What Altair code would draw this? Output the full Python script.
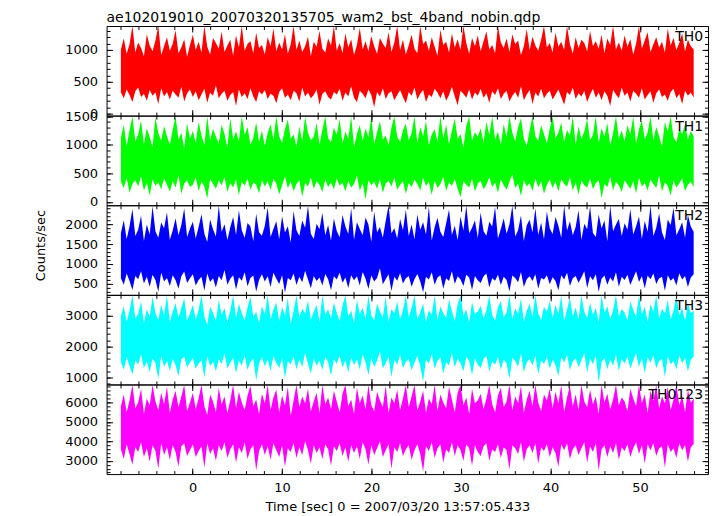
import altair as alt
import pandas as pd

title_text = "ae102019010_20070320135705_wam2_bst_4band_nobin.qdp"
x_title = "Time [sec] 0 = 2007/03/20 13:57:05.433"
y_title = "Counts/sec"

# each time bin (starting at -8 s, 200 bins up to 56 s) is read as its low and high extent
t_start = -8.0
t_step = 0.3216

band_names = ["TH0", "TH1", "TH2", "TH3", "TH0123"]
band_colors = ["#ff0000", "#00ff00", "#0000ff", "#00ffff", "#ff00ff"]

th0_hi = [1010, 1180, 940, 1090, 1380, 960, 1120, 1030, 900, 1250, 1070, 980, 1150, 1380, 920, 1060, 1200, 990, 1100, 1310, 950, 1040, 1170, 890, 1080,
          1240, 1000, 1130, 960, 1380, 1050, 930, 1190, 1110, 1020, 1290, 970, 1070, 1160, 910, 1230, 1040, 1380, 990, 1100, 1140, 950, 1270, 1030, 1080,
          930, 1200, 1060, 1340, 980, 1120, 1010, 1250, 940, 1090, 1380, 1000, 1150, 970, 1060, 1210, 900, 1130, 1050, 1300, 1020, 960, 1180, 1070, 1380,
          990, 1110, 950, 1260, 1040, 1170, 920, 1080, 1350, 1010, 1140, 980, 1220, 1060, 940, 1190, 1100, 1030, 1280, 970, 1120, 1380, 1000, 1160, 930,
          1070, 1240, 1020, 950, 1380, 1090, 1150, 990, 1200, 1050, 910, 1320, 1080, 1130, 960, 1260, 1040, 1170, 1000, 1380, 1110, 940, 1190, 1060, 1230,
          980, 1140, 1290, 1010, 1080, 950, 1380, 1120, 1030, 1180, 970, 1250, 1090, 1150, 920, 1060, 1330, 1000, 1210, 1070, 990, 1160, 1380, 1040, 1110,
          960, 1270, 1050, 1130, 1000, 1380, 1090, 940, 1200, 1030, 1160, 1110, 980, 1300, 1060, 1140, 1020, 1240, 950, 1180, 1080, 1380, 1010, 1120, 990,
          1230, 1050, 1170, 930, 1100, 1380, 1020, 1150, 1280, 970, 1090, 1200, 1040, 1130, 960, 1340, 1070, 1190, 1000, 1110, 1260, 980, 1160, 1060, 1010]
th0_lo = [330, 240, 380, 290, 180, 350, 410, 260, 310, 200, 370, 280, 330, 150, 400, 270, 340, 220, 360, 300, 250, 420, 190, 320, 380,
          260, 350, 210, 300, 390, 170, 330, 280, 440, 240, 310, 360, 200, 290, 340, 120, 380, 260, 320, 230, 400, 270, 180, 350, 300,
          370, 230, 310, 280, 160, 340, 400, 250, 300, 210, 360, 320, 190, 410, 270, 330, 240, 290, 380, 140, 310, 350, 260, 220, 340,
          300, 390, 200, 330, 270, 430, 250, 180, 360, 310, 240, 380, 290, 100, 340, 270, 400, 230, 320, 350, 210, 290, 370, 260, 160,
          340, 280, 410, 220, 310, 370, 180, 300, 260, 390, 330, 240, 350, 200, 290, 420, 270, 130, 360, 310, 250, 380, 220, 330, 280,
          390, 250, 320, 170, 350, 290, 400, 230, 310, 360, 190, 280, 340, 250, 430, 210, 300, 370, 150, 330, 270, 390, 240, 310, 360,
          220, 300, 380, 260, 140, 340, 290, 410, 230, 320, 270, 360, 180, 300, 390, 250, 330, 210, 350, 280, 120, 370, 300, 240, 410,
          280, 330, 190, 360, 310, 250, 400, 220, 290, 350, 170, 320, 380, 260, 300, 200, 340, 390, 240, 310, 150, 360, 280, 330, 250]

th1_hi = [1120, 1350, 980, 1250, 1500, 1060, 1180, 1420, 1010, 1290, 1130, 960, 1480, 1200, 1070, 1330, 1150, 1000, 1260, 1500, 1090, 1210, 940, 1370, 1110,
          1240, 1030, 1400, 1160, 990, 1500, 1080, 1280, 1140, 1020, 1350, 1190, 950, 1460, 1100, 1230, 1060, 1500, 1170, 1310, 1000, 1120, 1390, 1050, 1250,
          980, 1200, 1360, 1090, 1500, 1150, 1030, 1270, 1440, 1110, 1180, 970, 1320, 1060, 1490, 1210, 1080, 1140, 1380, 1000, 1260, 1500, 1120, 1040, 1300,
          1170, 1450, 1020, 1230, 1100, 1500, 960, 1190, 1340, 1070, 1280, 1130, 1500, 1010, 1220, 1410, 1090, 1160, 990, 1300, 1500, 1140, 1050, 1250, 1370,
          1080, 1200, 1500, 1030, 1310, 1150, 1420, 990, 1180, 1270, 1060, 1500, 1120, 1350, 1010, 1240, 1460, 1100, 1190, 950, 1330, 1500, 1070, 1220, 1140,
          1290, 1040, 1400, 1170, 1500, 1090, 1230, 1000, 1360, 1130, 1500, 1210, 1060, 1300, 1470, 1110, 980, 1250, 1500, 1150, 1070, 1340, 1190, 1020, 1280,
          1500, 1120, 1210, 1390, 1050, 1260, 1160, 1500, 1000, 1320, 1100, 1230, 1450, 1080, 1170, 1500, 1030, 1290, 1140, 1380, 990, 1200, 1500, 1110, 1250,
          1060, 1340, 1180, 1500, 1020, 1270, 1430, 1100, 1210, 1500, 1080, 1310, 1150, 970, 1400, 1230, 1500, 1130, 1040, 1280, 1190, 1360, 1090, 1240, 1150]
th1_lo = [350, 240, 420, 160, 310, 380, 270, 450, 200, 330, 110, 390, 280, 340, 220, 410, 300, 180, 360, 250, 470, 140, 320, 380, 260,
          300, 430, 190, 350, 270, 60, 400, 310, 230, 370, 290, 440, 170, 330, 250, 390, 120, 350, 280, 410, 210, 340, 300, 150, 380,
          270, 360, 210, 400, 320, 130, 290, 450, 240, 350, 190, 310, 380, 90, 330, 270, 420, 230, 360, 300, 170, 390, 260, 340, 220,
          410, 280, 340, 180, 370, 250, 310, 460, 200, 330, 40, 380, 290, 350, 230, 400, 160, 320, 370, 270, 430, 210, 300, 360, 140,
          330, 260, 390, 310, 200, 420, 280, 350, 120, 370, 240, 310, 440, 190, 340, 280, 400, 230, 80, 360, 300, 250, 410, 180, 320,
          370, 220, 300, 430, 260, 340, 160, 390, 290, 210, 350, 480, 240, 320, 100, 380, 270, 330, 190, 410, 250, 360, 140, 300, 390,
          240, 350, 180, 400, 310, 270, 430, 200, 340, 130, 370, 290, 250, 410, 220, 330, 380, 70, 310, 260, 440, 200, 350, 290, 170,
          380, 300, 230, 360, 150, 420, 270, 330, 200, 390, 310, 240, 460, 180, 340, 280, 110, 370, 250, 320, 410, 190, 300, 350, 260]

th2_hi = [1780, 2100, 1620, 1950, 2380, 1700, 1860, 2210, 1580, 1990, 1740, 2450, 1820, 1660, 2040, 1900, 2300, 1610, 1840, 2150, 1720, 1980, 2400, 1680, 1890,
          2060, 1640, 1930, 2250, 1760, 1550, 2120, 1870, 1690, 2470, 1810, 2000, 1600, 1920, 2180, 1730, 2350, 1850, 1650, 2030, 1940, 1570, 2260, 1800, 1710,
          1960, 2420, 1680, 1880, 2070, 1620, 2200, 1790, 1950, 1540, 2330, 1850, 1700, 2090, 1910, 2460, 1760, 1630, 2010, 1870, 2280, 1720, 1980, 1590, 2140,
          1830, 1670, 2230, 1940, 1750, 2400, 1610, 2050, 1880, 1720, 2170, 1990, 1560, 2310, 1800, 1930, 1660, 2080, 2470, 1770, 1900, 1640, 2130, 1850, 2360,
          1700, 1990, 1620, 2240, 1860, 2050, 1740, 2440, 1590, 1920, 2160, 1810, 1680, 2020, 2370, 1730, 1960, 1600, 2190, 1840, 2470, 1770, 1910, 2100, 1650,
          2290, 1820, 1710, 2060, 1940, 2430, 1640, 1880, 2150, 1760, 2000, 2470, 1690, 1850, 2220, 1580, 1970, 2110, 1800, 2400, 1730, 2040, 1620, 2320, 1890,
          1750, 2180, 1960, 1660, 2470, 1840, 2070, 1720, 1930, 2350, 1610, 2010, 1870, 2450, 1780, 1680, 2240, 1900, 2090, 1570, 2470, 1820, 1990, 2130, 1700,
          2020, 1860, 2380, 1740, 1950, 2190, 1630, 2080, 1810, 2470, 1700, 1910, 2270, 1790, 1600, 2120, 1980, 2410, 1720, 1870, 2050, 1660, 2230, 1940, 1810]
th2_lo = [640, 480, 760, 570, 350, 700, 620, 820, 510, 680, 430, 730, 600, 300, 780, 560, 650, 450, 720, 590, 380, 690, 810, 520, 640,
          740, 460, 600, 680, 330, 760, 550, 640, 410, 700, 590, 850, 480, 630, 720, 360, 670, 580, 790, 440, 650, 710, 300, 600, 740,
          560, 690, 420, 780, 630, 500, 720, 280, 650, 590, 760, 470, 680, 540, 830, 610, 390, 700, 570, 660, 460, 750, 620, 340, 690,
          610, 780, 530, 660, 400, 720, 590, 690, 460, 800, 630, 370, 710, 560, 650, 890, 490, 620, 740, 320, 680, 580, 770, 510, 640,
          700, 430, 620, 750, 560, 290, 680, 610, 790, 480, 660, 720, 380, 640, 570, 820, 500, 690, 610, 450, 730, 660, 350, 700, 590,
          520, 690, 760, 410, 640, 580, 730, 470, 680, 600, 310, 710, 650, 540, 800, 420, 620, 690, 570, 740, 380, 650, 610, 720, 490,
          670, 570, 340, 720, 610, 780, 450, 640, 700, 530, 660, 820, 400, 690, 590, 740, 300, 630, 710, 480, 660, 560, 790, 430, 680,
          600, 730, 470, 650, 820, 550, 690, 390, 710, 620, 760, 500, 640, 680, 330, 720, 580, 650, 460, 770, 610, 700, 420, 660, 740]

th3_hi = [2980, 3300, 2800, 3150, 3650, 2900, 3050, 3450, 2750, 3200, 2950, 3600, 3100, 2850, 3350, 3000, 3650, 2780, 3120, 3400, 2920, 3250, 3550, 2830, 3060,
          3350, 2870, 3180, 3650, 2960, 2700, 3280, 3090, 2820, 3500, 3020, 3230, 2780, 3150, 3650, 2910, 3380, 3070, 2840, 3260, 3600, 2950, 3120, 2760, 3300,
          3040, 3650, 2880, 3190, 3420, 2810, 3270, 3000, 3560, 2730, 3140, 3650, 2940, 3220, 3060, 3480, 2860, 3110, 3350, 2790, 3650, 3030, 3200, 2900, 3410,
          3080, 2820, 3320, 3650, 2970, 3160, 2760, 3500, 3050, 3250, 2890, 3650, 3010, 2840, 3380, 3130, 2930, 3600, 2800, 3210, 3060, 3450, 2870, 3170, 3650,
          2950, 3240, 3650, 2880, 3100, 3390, 2790, 3170, 3020, 3650, 2850, 3290, 3080, 2920, 3520, 3140, 2810, 3360, 3650, 2990, 3200, 2770, 3430, 3050, 3130,
          3310, 2900, 3180, 3650, 3010, 2830, 3270, 3460, 2940, 3090, 3650, 2870, 3230, 3050, 3540, 2800, 3150, 3380, 2960, 3650, 3070, 2850, 3280, 3120, 3470,
          2910, 3350, 3040, 3650, 2820, 3190, 3560, 2980, 3260, 2860, 3650, 3110, 2930, 3400, 3020, 3240, 2780, 3650, 3090, 3300, 2890, 3160, 3650, 2970, 3210,
          3100, 2840, 3450, 3180, 2950, 3650, 3030, 3280, 2800, 3370, 3120, 3650, 2900, 3220, 3060, 3500, 2870, 3150, 3650, 2990, 3250, 2820, 3400, 3070, 3160]
th3_lo = [1500, 1250, 1650, 1380, 1100, 1560, 1420, 1750, 1300, 1520, 1180, 1620, 1460, 950, 1700, 1350, 1530, 1220, 1600, 1400, 1050, 1580, 1680, 1320, 1480,
          1630, 1280, 1450, 1560, 1000, 1690, 1370, 1510, 1200, 1600, 1430, 1780, 1290, 1480, 1640, 1150, 1550, 1390, 1720, 1240, 1500, 1610, 900, 1450, 1660,
          1360, 1590, 1210, 1700, 1470, 1310, 1620, 980, 1530, 1420, 1680, 1270, 1580, 1340, 1800, 1440, 1130, 1610, 1380, 1550, 1250, 1670, 1490, 1060, 1590,
          1440, 1710, 1320, 1560, 1170, 1640, 1400, 1590, 1260, 1750, 1490, 1080, 1620, 1350, 1530, 1850, 1290, 1460, 1680, 1020, 1570, 1410, 1730, 1300, 1510,
          1600, 1230, 1480, 1690, 1370, 870, 1580, 1450, 1760, 1280, 1540, 1650, 1120, 1500, 1390, 1790, 1330, 1610, 1460, 1200, 1660, 1540, 1070, 1620, 1420,
          1310, 1600, 1700, 1190, 1520, 1410, 1670, 1260, 1580, 1460, 960, 1640, 1530, 1350, 1770, 1180, 1490, 1600, 1390, 1690, 1110, 1550, 1440, 1650, 1280,
          1570, 1400, 1040, 1660, 1480, 1730, 1240, 1520, 1620, 1330, 1560, 1790, 1160, 1610, 1430, 1700, 850, 1500, 1640, 1270, 1580, 1380, 1740, 1210, 1600,
          1450, 1680, 1290, 1550, 1780, 1350, 1620, 1140, 1660, 1470, 1720, 1300, 1540, 1600, 1010, 1690, 1420, 1530, 1260, 1710, 1460, 1640, 1190, 1570, 1680]

th0123_hi = [5800, 6400, 5500, 6100, 6900, 5700, 6000, 6700, 5400, 6200, 5850, 6900, 6050, 5600, 6500, 5900, 6800, 5450, 6150, 6600, 5750, 6300, 6900, 5550, 6000,
             6500, 5650, 6200, 6900, 5800, 5350, 6400, 6050, 5500, 6750, 5900, 6300, 5450, 6100, 6900, 5700, 6550, 6000, 5600, 6350, 6850, 5800, 6150, 5400, 6450,
             5950, 6900, 5600, 6250, 6650, 5500, 6350, 5850, 6800, 5300, 6100, 6900, 5750, 6300, 5950, 6700, 5550, 6050, 6500, 5450, 6900, 5900, 6250, 5650, 6600,
             6050, 5500, 6450, 6900, 5800, 6150, 5400, 6750, 5950, 6350, 5650, 6900, 5850, 5550, 6550, 6100, 5750, 6850, 5450, 6250, 5950, 6650, 5600, 6200, 6900,
             5750, 6300, 6900, 5600, 6050, 6600, 5450, 6200, 5900, 6900, 5550, 6400, 6000, 5700, 6800, 6150, 5500, 6500, 6900, 5850, 6250, 5400, 6700, 5950, 6100,
             6450, 5650, 6200, 6900, 5900, 5500, 6350, 6750, 5750, 6050, 6900, 5600, 6300, 5950, 6850, 5450, 6150, 6600, 5800, 6900, 6000, 5550, 6400, 6100, 6700,
             5700, 6550, 5950, 6900, 5500, 6250, 6850, 5800, 6400, 5600, 6900, 6050, 5750, 6650, 5900, 6300, 5400, 6900, 6000, 6450, 5650, 6150, 6900, 5850, 6250,
             6050, 5550, 6700, 6200, 5800, 6900, 5950, 6400, 5450, 6600, 6100, 6900, 5700, 6300, 5950, 6800, 5600, 6150, 6900, 5850, 6350, 5500, 6650, 6000, 6200]
th0123_lo = [3600, 3100, 3850, 3350, 2800, 3700, 3450, 3950, 3200, 3650, 2950, 3800, 3500, 2600, 3900, 3300, 3700, 3050, 3800, 3450, 2700, 3750, 3900, 3250, 3550,
             3850, 3200, 3500, 3750, 2650, 3900, 3350, 3650, 3000, 3800, 3500, 3950, 3150, 3600, 3850, 2900, 3700, 3400, 3950, 3100, 3600, 3800, 2500, 3500, 3850,
             3300, 3750, 3050, 3900, 3550, 3200, 3800, 2700, 3650, 3450, 3900, 3150, 3700, 3300, 4000, 3550, 2850, 3800, 3400, 3700, 3100, 3850, 3600, 2750, 3750,
             3500, 3900, 3250, 3700, 2950, 3800, 3400, 3750, 3100, 3950, 3600, 2800, 3800, 3300, 3650, 4000, 3200, 3550, 3850, 2600, 3700, 3450, 3900, 3250, 3600,
             3800, 3050, 3550, 3850, 3350, 2450, 3750, 3500, 3950, 3150, 3650, 3850, 2900, 3600, 3400, 3950, 3250, 3800, 3550, 3000, 3850, 3650, 2750, 3800, 3450,
             3250, 3750, 3900, 3000, 3600, 3450, 3850, 3150, 3700, 3550, 2550, 3800, 3650, 3350, 3950, 2950, 3600, 3800, 3400, 3900, 2850, 3700, 3500, 3850, 3200,
             3700, 3400, 2700, 3850, 3550, 3900, 3100, 3600, 3800, 3300, 3650, 3950, 2900, 3750, 3450, 3900, 2500, 3600, 3800, 3200, 3750, 3400, 3900, 3050, 3700,
             3500, 3850, 3200, 3650, 3950, 3350, 3800, 2850, 3850, 3550, 3900, 3250, 3650, 3750, 2650, 3850, 3450, 3650, 3150, 3900, 3550, 3800, 2950, 3700, 3850]

series_lo = [th0_lo, th1_lo, th2_lo, th3_lo, th0123_lo]
series_hi = [th0_hi, th1_hi, th2_hi, th3_hi, th0123_hi]

x_domain = [-9.6, 57.6]
x_major = [0, 10, 20, 30, 40, 50]
x_minor = list(range(-8, 58, 2))

y_domains = [[-33, 1378], [-60, 1510], [225, 2475], [775, 3665], [2320, 6920]]
y_major = [[0, 500, 1000], [0, 500, 1000, 1500], [500, 1000, 1500, 2000],
           [1000, 2000, 3000], [3000, 4000, 5000, 6000]]
y_minor = [list(range(0, 1400, 100)), list(range(0, 1600, 100)), list(range(300, 2500, 100)),
           list(range(800, 3700, 200)), list(range(2400, 6920, 200))]

W = 604
H = 90
FONT = "DejaVu Sans"
MAJOR = 6
MINOR = 3.5


def panel(i):
    lo, hi = series_lo[i], series_hi[i]
    n = min(len(lo), len(hi))
    df = pd.DataFrame({
        "t": [t_start + t_step * k for k in range(n)],
        "lo": lo[:n],
        "hi": hi[:n],
    })
    helper = pd.DataFrame({"t": [x_domain[0]], "v": [y_domains[i][0]]})
    xs = alt.Scale(domain=x_domain, nice=False, zero=False)
    ys = alt.Scale(domain=y_domains[i], nice=False, zero=False)
    last = i == len(series_lo) - 1

    if last:
        x_axis = alt.Axis(orient="bottom", values=x_major, ticks=False, tickSize=0, domain=False,
                          grid=False, labelPadding=7, labelFontSize=13, format="d",
                          title=x_title, titleFontSize=13, titleX=292, titleY=33,
                          titleBaseline="middle")
    else:
        x_axis = None
    y_axis = alt.Axis(orient="left", values=y_major[i], ticks=False, tickSize=0, domain=False,
                      grid=False, labelPadding=9, labelFontSize=13, format="d", title=y_title,
                      titleFontSize=13, titleX=-66, titleY=H / 2 - 5, titleAngle=270,
                      titleAlign="center", titleBaseline="middle",
                      titleOpacity=1 if i == 2 else 0)

    band = alt.Chart(df).mark_area(color=band_colors[i], interpolate="linear", clip=True,
                                   opacity=1).encode(
        x=alt.X("t:Q", scale=xs, axis=x_axis),
        y=alt.Y("hi:Q", scale=ys, axis=y_axis),
        y2="lo:Q",
    )

    def ticks(xvals, yvals, xorient, yorient, size):
        return alt.Chart(helper).mark_point(opacity=0).encode(
            x=alt.X("t:Q", scale=xs, axis=alt.Axis(
                orient=xorient, offset=-H, values=xvals, tickSize=size, labels=False,
                domain=False, grid=False, title=None, tickColor="black", minExtent=0,
                maxExtent=0, zindex=2)),
            y=alt.Y("v:Q", scale=ys, axis=alt.Axis(
                orient=yorient, offset=-W, values=yvals, tickSize=size, labels=False,
                domain=False, grid=False, title=None, tickColor="black", minExtent=0,
                maxExtent=0, zindex=2)),
        )

    label = alt.Chart(pd.DataFrame({"name": [band_names[i]]})).mark_text(
        align="right", baseline="middle", font=FONT, fontSize=14, color="black"
    ).encode(text="name:N", x=alt.value(W - 5), y=alt.value(11))

    layers = [
        band,
        ticks(x_major, y_major[i], "top", "right", MAJOR),
        ticks(x_minor, y_minor[i], "top", "right", MINOR),
        ticks(x_major, y_major[i], "bottom", "left", MAJOR),
        ticks(x_minor, y_minor[i], "bottom", "left", MINOR),
        label,
    ]
    props = dict(width=W, height=H)
    if i == 0:
        props["title"] = alt.TitleParams(title_text, anchor="start", frame="group", font=FONT,
                                         fontSize=14, fontWeight="normal", color="black",
                                         offset=4, dy=3)
    return alt.layer(*layers).resolve_axis(x="independent", y="independent").properties(**props)


chart = alt.vconcat(*[panel(i) for i in range(len(series_lo))], spacing=0, bounds="flush").properties(
    padding={"left": 26, "top": 1, "right": 0, "bottom": 0},
    background="white",
).configure_view(stroke="black", strokeWidth=1).configure_axis(
    labelFont=FONT, titleFont=FONT, labelColor="black", titleColor="black",
    titleFontWeight="normal", tickColor="black"
)

chart.save("out.html", embed_options={"renderer": "svg", "actions": False})
